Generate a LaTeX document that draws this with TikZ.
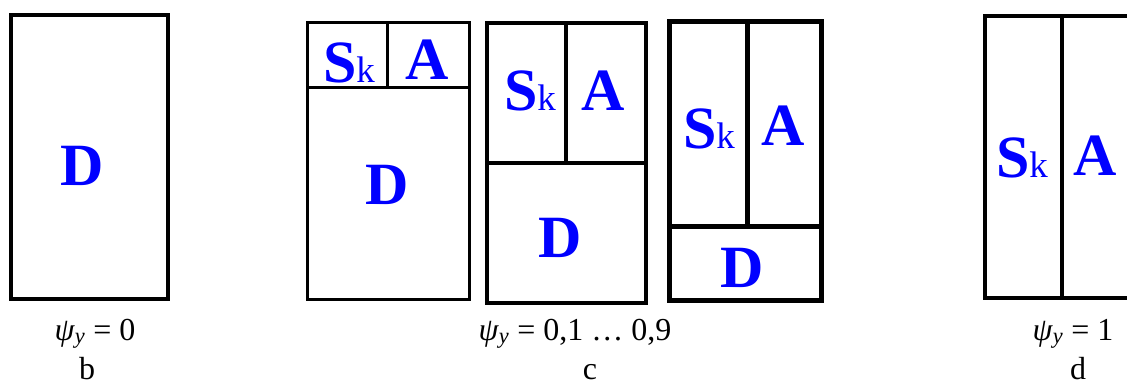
\documentclass[tikz,border=0pt]{standalone}
\usepackage{fontspec}
\setmainfont{Liberation Serif}
\begin{document}
\begin{tikzpicture}[x=1pt, y=-1pt,
  part/.style={anchor=base, text=blue, inner sep=0pt, font=\fontsize{60}{60}\selectfont\bfseries},
  undertext/.style={anchor=base, inner sep=0pt, font=\fontsize{32}{36}\selectfont},
  frame/.style={draw=black, line width=#1}]
\newcommand{\Sk}{S{\fontsize{37}{37}\selectfont\mdseries k}}
\newcommand{\psiy}{\textit{ψ}\textsubscript{\textit{y}}}
\clip (0,0) rectangle (1127,386);
\fill[white] (0,0) rectangle (1127,386);
% b
\draw[frame=4.5pt] (11,15) rectangle (168,299);
\node[part] (dB) at (82,185) {D};
\node[undertext] (psiB) at (95,340) {\psiy{} = 0};
\node[undertext] (labB) at (87,379) {b};
% c, three boxes
\draw[frame=3pt] (307,22) rectangle (469,299);
\draw[frame=3pt] (307,87) -- (469,87) (387,22) -- (387,87);
\node[part] (skC1) at (349,82) {\Sk};
\node[part] (aC1) at (427,79) {A};
\node[part] (dC1) at (387,204) {D};
\draw[frame=3.5pt] (487,23) rectangle (646,303);
\draw[frame=3.5pt] (487,163) -- (646,163) (566,23) -- (566,163);
\node[part] (skC2) at (530,110) {\Sk};
\node[part] (aC2) at (603,110) {A};
\node[part] (dC2) at (560,257) {D};
\draw[frame=5pt] (669,21) rectangle (821,300);
\draw[frame=5pt] (669,226) -- (821,226) (747,21) -- (747,226);
\node[part] (skC3) at (709,148) {\Sk};
\node[part] (aC3) at (783,145) {A};
\node[part] (dC3) at (742,287) {D};
\node[undertext] (psiC) at (575,340) {\psiy{} = 0,1 … 0,9};
\node[undertext] (labC) at (590,379) {c};
% d
\draw[frame=4pt] (985,16) rectangle (1140,298);
\draw[frame=4pt] (1062,16) -- (1062,298);
\node[part] (skD) at (1022,177) {\Sk};
\node[part] (aD) at (1095,175) {A};
\node[undertext] (psiD) at (1073,340) {\psiy{} = 1};
\node[undertext] (labD) at (1078,379) {d};
\end{tikzpicture}
\end{document}
